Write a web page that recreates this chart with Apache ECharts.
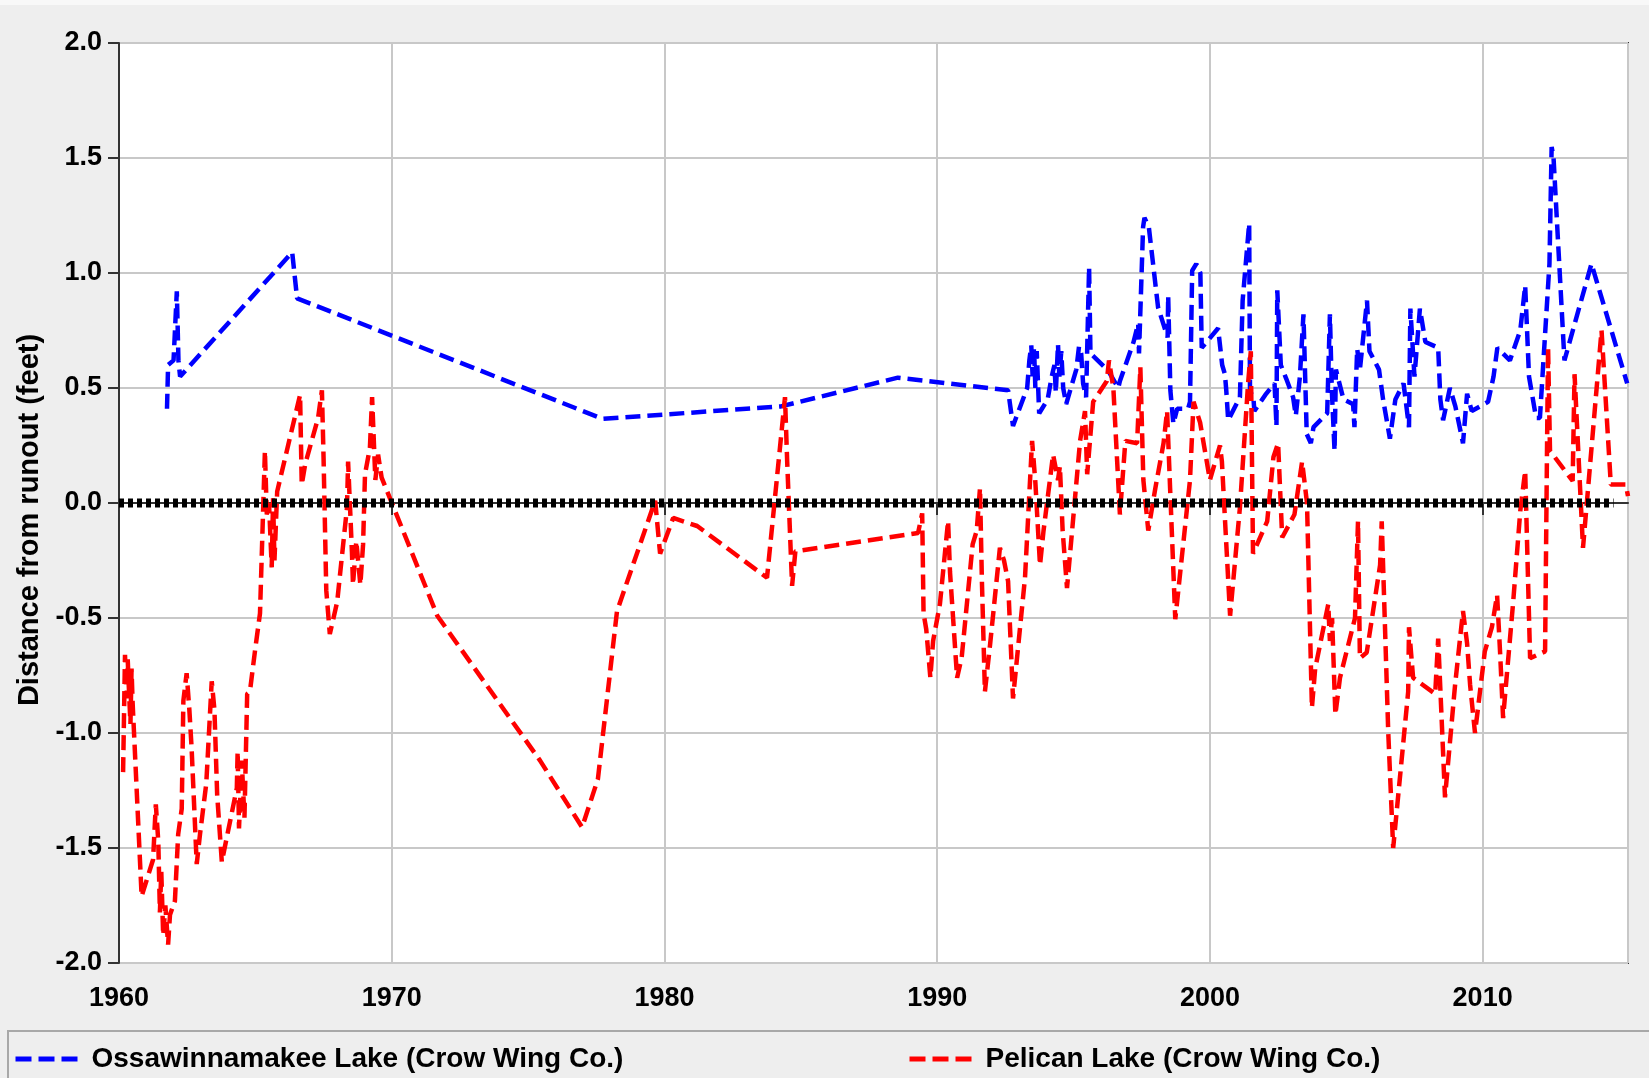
<!DOCTYPE html>
<html>
<head>
<meta charset="utf-8">
<title>Lake levels</title>
<script src="https://cdn.jsdelivr.net/npm/echarts@6/dist/echarts.min.js"></script>
<style>
  html, body { margin: 0; padding: 0; background: #eeeeee; }
  #myChart { width: 1649px; height: 1078px; }
</style>
</head>
<body>
<div id="myChart"></div>
<script>
// [decimal year, feet from runout]
var ossawinnamakee = [
  [1961.76, 0.41], [1961.8, 0.6], [1962.0, 0.62], [1962.12, 0.92], [1962.18, 0.62], [1962.24, 0.55],
  [1966.35, 1.09], [1966.53, 0.89], [1977.73, 0.366], [1984.27, 0.42], [1988.56, 0.545],
  [1992.6, 0.49], [1992.78, 0.335], [1993.3, 0.5], [1993.38, 0.62], [1993.45, 0.685], [1993.5, 0.55],
  [1993.55, 0.68], [1993.6, 0.5], [1993.65, 0.66], [1993.74, 0.39], [1994.05, 0.45], [1994.2, 0.55],
  [1994.3, 0.6], [1994.35, 0.48], [1994.43, 0.69], [1994.48, 0.55], [1994.55, 0.66], [1994.62, 0.5],
  [1994.73, 0.43], [1994.9, 0.5], [1995.1, 0.58], [1995.2, 0.68], [1995.28, 0.65], [1995.35, 0.52],
  [1995.46, 0.46], [1995.57, 1.025], [1995.62, 0.65], [1995.8, 0.63], [1996.27, 0.575], [1996.64, 0.5],
  [1996.7, 0.53], [1997.2, 0.7], [1997.37, 0.78], [1997.4, 0.65], [1997.55, 1.2], [1997.6, 1.24],
  [1997.76, 1.2], [1998.1, 0.85], [1998.45, 0.72], [1998.47, 0.9], [1998.55, 0.49], [1998.66, 0.345],
  [1998.8, 0.41], [1999.2, 0.41], [1999.27, 0.44], [1999.35, 1.01], [1999.5, 1.04], [1999.65, 1.0],
  [1999.7, 0.675], [1999.95, 0.71], [2000.3, 0.76], [2000.45, 0.6], [2000.55, 0.56], [2000.6, 0.49],
  [2000.67, 0.36], [2001.1, 0.46], [2001.2, 0.88], [2001.44, 1.215], [2001.47, 0.49], [2001.6, 0.45],
  [2001.63, 0.4], [2002.03, 0.47], [2002.37, 0.52], [2002.44, 0.335], [2002.47, 0.925], [2002.6, 0.6],
  [2002.8, 0.54], [2003.05, 0.46], [2003.15, 0.38], [2003.3, 0.55], [2003.43, 0.82], [2003.55, 0.3],
  [2003.7, 0.26], [2003.8, 0.33], [2004.3, 0.39], [2004.4, 0.82], [2004.47, 0.49], [2004.57, 0.227],
  [2004.62, 0.58], [2004.9, 0.45], [2005.25, 0.43], [2005.3, 0.33], [2005.4, 0.67], [2005.5, 0.58],
  [2005.76, 0.88], [2005.85, 0.66], [2006.2, 0.58], [2006.35, 0.45], [2006.6, 0.28], [2006.8, 0.45],
  [2007.1, 0.52], [2007.3, 0.33], [2007.35, 0.845], [2007.5, 0.55], [2007.7, 0.845], [2007.9, 0.7],
  [2008.37, 0.675], [2008.45, 0.45], [2008.55, 0.36], [2008.8, 0.5], [2009.0, 0.42], [2009.28, 0.26],
  [2009.43, 0.475], [2009.6, 0.4], [2010.2, 0.44], [2010.27, 0.44], [2010.4, 0.55], [2010.54, 0.675],
  [2011.0, 0.62], [2011.38, 0.75], [2011.56, 0.945], [2011.7, 0.55], [2011.96, 0.37], [2012.1, 0.37],
  [2012.45, 1.04], [2012.53, 1.548], [2012.6, 1.5], [2013.0, 0.62], [2013.99, 1.04], [2015.3, 0.52]
];

var pelican = [
  [1960.15, -1.17], [1960.22, -0.66], [1960.28, -0.85], [1960.32, -0.68], [1960.36, -0.8], [1960.42, -0.96],
  [1960.46, -0.72], [1960.5, -0.87], [1960.83, -1.71], [1960.9, -1.71], [1961.25, -1.55], [1961.35, -1.31],
  [1961.44, -1.47], [1961.5, -1.78], [1961.55, -1.6], [1961.62, -1.88], [1961.7, -1.75], [1961.8, -1.92],
  [1961.87, -1.79], [1962.05, -1.73], [1962.17, -1.44], [1962.3, -1.33], [1962.36, -0.86], [1962.48, -0.74],
  [1962.58, -0.9], [1962.66, -1.06], [1962.85, -1.57], [1962.97, -1.44], [1963.2, -1.22], [1963.4, -0.775],
  [1963.5, -0.9], [1963.6, -1.27], [1963.77, -1.56], [1964.32, -1.24], [1964.35, -1.08], [1964.4, -1.415],
  [1964.5, -1.12], [1964.6, -1.37], [1964.7, -0.83], [1964.8, -0.82], [1965.0, -0.63], [1965.17, -0.48],
  [1965.35, 0.227], [1965.42, -0.05], [1965.5, 0.0], [1965.6, -0.28], [1965.65, 0.02], [1965.7, -0.25],
  [1965.8, 0.05], [1966.64, 0.47], [1966.7, 0.08], [1966.83, 0.17], [1967.3, 0.37], [1967.44, 0.49],
  [1967.5, 0.2], [1967.6, -0.38], [1967.73, -0.57], [1968.0, -0.43], [1968.36, -0.02], [1968.4, 0.18],
  [1968.54, -0.21], [1968.58, -0.355], [1968.7, -0.166], [1968.85, -0.355], [1968.95, -0.18], [1969.02, 0.125],
  [1969.2, 0.24], [1969.28, 0.46], [1969.4, 0.1], [1969.5, 0.21], [1969.63, 0.11], [1969.7, 0.11],
  [1971.67, -0.49], [1975.44, -1.12], [1976.98, -1.41], [1977.56, -1.2], [1978.26, -0.47], [1979.66, 0.01],
  [1979.84, -0.22], [1980.32, -0.065], [1981.2, -0.1], [1983.76, -0.325], [1984.42, 0.46], [1984.5, 0.18],
  [1984.68, -0.36], [1984.8, -0.21], [1989.3, -0.13], [1989.45, -0.045], [1989.5, -0.48], [1989.6, -0.55],
  [1989.75, -0.76], [1989.85, -0.6], [1990.1, -0.44], [1990.4, -0.078], [1990.47, -0.3], [1990.73, -0.76],
  [1990.9, -0.67], [1991.3, -0.18], [1991.45, -0.12], [1991.57, 0.065], [1991.64, -0.34], [1991.75, -0.82],
  [1991.94, -0.615], [1992.3, -0.195], [1992.45, -0.25], [1992.6, -0.34], [1992.78, -0.85], [1993.22, -0.325],
  [1993.48, 0.27], [1993.6, 0.09], [1993.77, -0.27], [1993.9, -0.12], [1994.25, 0.21], [1994.43, 0.1],
  [1994.5, 0.16], [1994.6, -0.12], [1994.76, -0.37], [1995.24, 0.27], [1995.42, 0.4], [1995.5, 0.125],
  [1995.72, 0.44], [1996.22, 0.53], [1996.3, 0.62], [1996.46, 0.5], [1996.7, -0.05], [1996.9, 0.27],
  [1997.33, 0.26], [1997.45, 0.59], [1997.56, 0.1], [1997.74, -0.12], [1998.0, 0.065], [1998.3, 0.26],
  [1998.43, 0.4], [1998.54, 0.065], [1998.73, -0.505], [1999.27, 0.1], [1999.4, 0.44], [1999.64, 0.35],
  [2000.0, 0.1], [2000.37, 0.25], [2000.44, 0.18], [2000.74, -0.49], [2001.1, -0.02], [2001.4, 0.52],
  [2001.5, 0.66], [2001.58, -0.22], [2002.1, -0.08], [2002.33, 0.2], [2002.5, 0.26], [2002.65, -0.15],
  [2003.1, -0.05], [2003.38, 0.18], [2003.56, 0.0], [2003.74, -0.89], [2003.86, -0.72], [2004.34, -0.44],
  [2004.4, -0.6], [2004.48, -0.5], [2004.6, -0.92], [2004.77, -0.76], [2005.32, -0.5], [2005.43, -0.08],
  [2005.5, -0.675], [2005.75, -0.65], [2006.24, -0.27], [2006.3, -0.08], [2006.54, -1.0], [2006.72, -1.5],
  [2007.27, -0.82], [2007.3, -0.54], [2007.45, -0.76], [2008.26, -0.83], [2008.37, -0.59], [2008.62, -1.28],
  [2008.99, -0.79], [2009.28, -0.47], [2009.43, -0.61], [2009.54, -0.79], [2009.72, -1.0], [2010.08, -0.645],
  [2010.34, -0.54], [2010.53, -0.4], [2010.64, -0.65], [2010.75, -0.935], [2011.12, -0.43], [2011.38, -0.035],
  [2011.56, 0.14], [2011.74, -0.675], [2012.29, -0.645], [2012.36, 0.23], [2012.4, 0.675], [2012.47, 0.227],
  [2013.3, 0.096], [2013.37, 0.56], [2013.68, -0.195], [2014.36, 0.75], [2014.7, 0.08], [2015.25, 0.08],
  [2015.33, 0.03]
];

var runout = [[1960, 0], [2014.8, 0]];

var seriesNames = ['Ossawinnamakee Lake (Crow Wing Co.)', 'Pelican Lake (Crow Wing Co.)'];
var yAxisTitle = 'Distance from runout (feet)';

var font = 'Liberation Sans, Arial, sans-serif';

var legendText = { fontFamily: font, fontWeight: 'bold', fontSize: 28, color: '#000', padding: [0, 0, 0, 5] };
var legendLine = { width: 5, type: [16, 7] };

var myChart = echarts.init(document.getElementById('myChart'));
var option = {
  backgroundColor: '#eeeeee',
  animation: false,
  grid: {
    left: 119, top: 43, right: 21, bottom: 115,
    outerBoundsMode: 'none', containLabel: false,
    show: true, backgroundColor: '#ffffff', borderColor: '#333333', borderWidth: 2
  },
  legend: [
    {
      data: [seriesNames[0]], left: 8, top: 1040, itemWidth: 66, itemHeight: 16, itemGap: 0,
      itemStyle: { opacity: 0 }, lineStyle: legendLine, textStyle: legendText
    },
    {
      data: [seriesNames[1]], left: 902, top: 1040, itemWidth: 66, itemHeight: 16, itemGap: 0,
      itemStyle: { opacity: 0 }, lineStyle: legendLine, textStyle: legendText
    }
  ],
  graphic: [
    { type: 'rect', shape: { x: 0, y: 0, width: 1649, height: 5 }, style: { fill: '#f8f8f8' }, silent: true },
    { type: 'rect', shape: { x: 8, y: 1031, width: 1700, height: 80 }, style: { fill: 'none', stroke: '#a8a8a8', lineWidth: 2 }, silent: true }
  ],
  xAxis: {
    type: 'value', min: 1960, max: 2015.33, interval: 10,
    axisLine: { show: true, lineStyle: { color: '#333', width: 2 } },
    axisTick: { show: true, length: 12, lineStyle: { color: '#333', width: 2 } },
    axisLabel: {
      margin: 22, fontFamily: font, fontWeight: 'bold', fontSize: 27, color: '#000',
      showMaxLabel: false,
      formatter: function (v) { return String(Math.round(v)) }
    },
    splitLine: { show: true, lineStyle: { color: '#c8c8c8', width: 2 } }
  },
  yAxis: {
    type: 'value', min: -2, max: 2, interval: 0.5,
    name: yAxisTitle, nameLocation: 'middle', nameGap: 74,
    nameTextStyle: { fontFamily: font, fontWeight: 'bold', fontSize: 29, color: '#000', padding: [0, 34, 0, 0] },
    axisLine: { show: true, lineStyle: { color: '#333', width: 2 } },
    axisTick: { show: true, length: 11, lineStyle: { color: '#333', width: 2 } },
    axisLabel: {
      margin: 17, fontFamily: font, fontWeight: 'bold', fontSize: 27, color: '#000',
      formatter: function (v) { return v.toFixed(1) }
    },
    splitLine: { show: true, lineStyle: { color: '#c8c8c8', width: 2 } }
  },
  series: [
    {
      name: seriesNames[0], type: 'line', data: ossawinnamakee, symbol: 'none', z: 3,
      lineStyle: { color: '#0000ff', width: 4.5, type: [15, 7] },
      itemStyle: { color: '#0000ff' }
    },
    {
      name: seriesNames[1], type: 'line', data: pelican, symbol: 'none', z: 4,
      lineStyle: { color: '#ff0000', width: 4.5, type: [15, 7] },
      itemStyle: { color: '#ff0000' }
    },
    {
      name: 'runout', type: 'line', data: runout, symbol: 'none', z: 5,
      lineStyle: { color: '#000000', width: 9, type: [5, 4] }
    }
  ]
};
myChart.setOption(option);
</script>
</body>
</html>
